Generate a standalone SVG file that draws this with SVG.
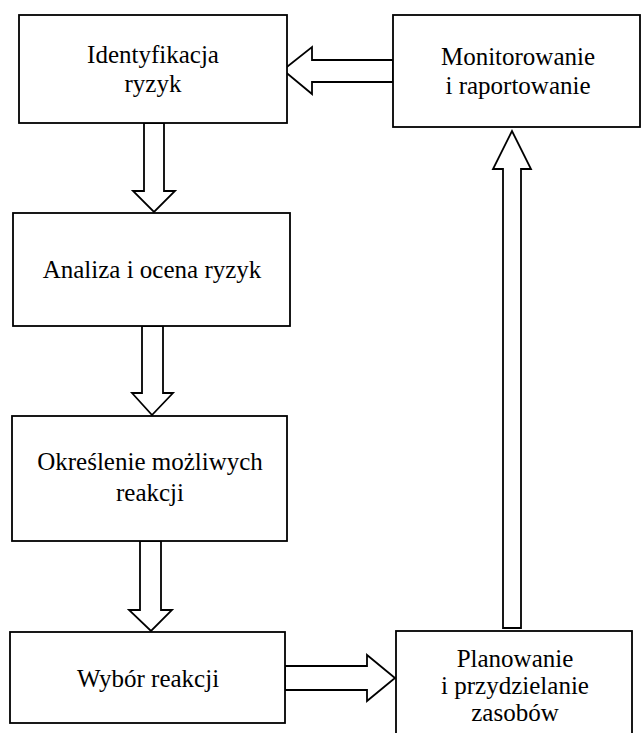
<svg xmlns="http://www.w3.org/2000/svg" width="641" height="733" viewBox="0 0 641 733">
<style>
.box{fill:#fff;stroke:#000;stroke-width:1.8}
.arr{fill:#fff;stroke:#000;stroke-width:1.8;stroke-linejoin:miter}
.t{font-size:25px;fill:#000;text-anchor:middle}
</style>
<rect width="641" height="733" fill="#fff"/>
<g id="connectors">
<polygon class="arr" points="144,123 164,123 164,191 175,191 154,212 133,191 144,191"/>
<polygon class="arr" points="142,326 163,326 163,393 173,393 152,415 132,393 142,393"/>
<polygon class="arr" points="140,541 161,541 161,610 172,610 151,631 129,610 140,610"/>
<polygon class="arr" points="285,666 367,666 367,655 395,678 367,701 367,690 285,690"/>
<polygon class="arr" points="503,628 521,628 521,169 531,169 512,131 493,169 503,169"/>
<polygon class="arr" points="393,60 312,60 312,47 283,70 312,94 312,82 393,82"/>
</g>
<g id="n1"><rect class="box" x="19" y="15" width="268" height="108"/><text class="t" font-family="'Liberation Serif'" x="153" y="63">Identyfikacja</text><text class="t" font-family="'Liberation Serif'" x="153" y="92">ryzyk</text></g>
<g id="n2"><rect class="box" x="13" y="213" width="277" height="113"/><text class="t" font-family="'Liberation Serif'" x="152" y="278">Analiza i ocena ryzyk</text></g>
<g id="n3"><rect class="box" x="12" y="416" width="275" height="125"/><text class="t" font-family="'Liberation Serif'" x="150" y="470">Określenie możliwych</text><text class="t" font-family="'Liberation Serif'" x="150" y="501">reakcji</text></g>
<g id="n4"><rect class="box" x="10" y="632" width="275" height="91"/><text class="t" font-family="'Liberation Serif'" x="148" y="687">Wybór reakcji</text></g>
<g id="n5"><rect class="box" x="393" y="15" width="247" height="112"/><text class="t" font-family="'Liberation Serif'" x="518" y="65">Monitorowanie</text><text class="t" font-family="'Liberation Serif'" x="518" y="94">i raportowanie</text></g>
<g id="n6"><rect class="box" x="396" y="631" width="236" height="110"/><text class="t" font-family="'Liberation Serif'" x="515" y="667">Planowanie</text><text class="t" font-family="'Liberation Serif'" x="515" y="694">i przydzielanie</text><text class="t" font-family="'Liberation Serif'" x="515" y="721">zasobów</text></g>
</svg>
